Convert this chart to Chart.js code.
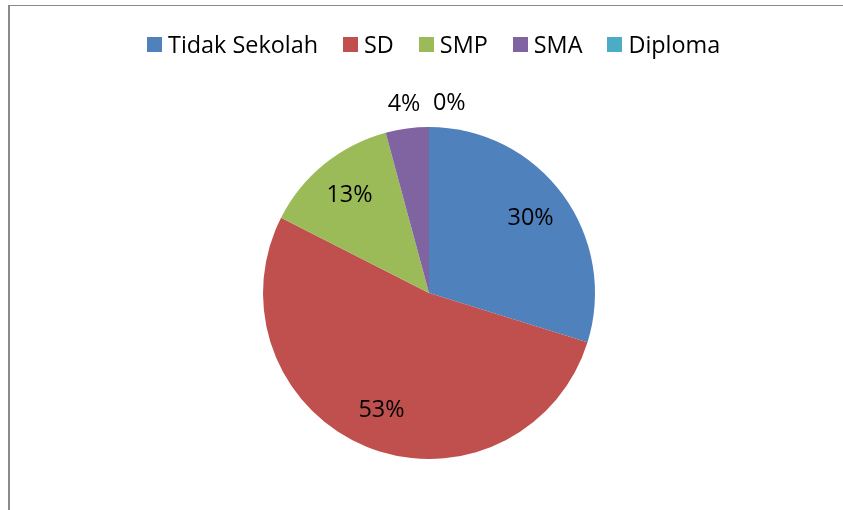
<!DOCTYPE html>
<html>
<head>
<meta charset="utf-8">
<script src="https://cdn.jsdelivr.net/npm/chart.js@4.4.1/dist/chart.umd.min.js"></script>
<style>
  html, body { margin: 0; padding: 0; background: #fff; overflow: hidden; }
  #wrap { position: relative; width: 843px; height: 510px; }
  #frame {
    position: absolute; left: 8px; top: 5px; width: 900px; height: 600px;
    border-top: 1px solid #8a8a8a; border-left: 2px solid #8a8a8a;
  }
  #pie { position: absolute; left: 0; top: 0; }
  #legend {
    position: absolute; left: 147px; top: 28px;
    display: flex; align-items: center;
    font-family: "Open Sans", "Noto Sans", sans-serif; font-size: 23.4px; color: #000;
  }
  #legend .item { display: flex; align-items: center; margin-right: 25px; }
  #legend .box { width: 15px; height: 15px; margin-right: 6px; }
</style>
</head>
<body>
<div id="wrap">
  <div id="frame"></div>
  <canvas id="pie" width="843" height="510"></canvas>
  <div id="legend"></div>
</div>
<script>
// education level shares (percent of respondents)
const categories = ["Tidak Sekolah", "SD", "SMP", "SMA", "Diploma"];
const shares = [29.8, 52.7, 13.3, 4.2, 0];
const colors = ["#4F81BD", "#C0504D", "#9BBB59", "#8064A2", "#4BACC6"];

const labelFont = "23.4px 'Open Sans', 'Noto Sans', sans-serif";

// html legend, built from the chart's own label items
const htmlLegendPlugin = {
  id: "htmlLegend",
  afterUpdate(chart) {
    const box = document.getElementById("legend");
    box.innerHTML = "";
    const items = chart.options.plugins.legend.labels.generateLabels(chart);
    items.forEach((it) => {
      const el = document.createElement("div");
      el.className = "item";
      const sw = document.createElement("span");
      sw.className = "box";
      sw.style.background = it.fillStyle;
      const tx = document.createElement("span");
      tx.textContent = it.text;
      el.appendChild(sw);
      el.appendChild(tx);
      box.appendChild(el);
    });
  },
};

// percent labels: inside for big slices, just outside for small ones
const sliceLabelPlugin = {
  id: "sliceLabels",
  afterDatasetsDraw(chart) {
    const { ctx } = chart;
    const meta = chart.getDatasetMeta(0);
    const data = chart.data.datasets[0].data;
    const total = data.reduce((a, b) => a + b, 0);
    ctx.save();
    ctx.font = labelFont;
    ctx.fillStyle = "#000";
    ctx.textBaseline = "middle";
    meta.data.forEach((arc, i) => {
      const { x, y, startAngle, endAngle, outerRadius } = arc.getProps(
        ["x", "y", "startAngle", "endAngle", "outerRadius"], true
      );
      const mid = (startAngle + endAngle) / 2;
      const pct = Math.round((data[i] / total) * 100);
      const text = pct + "%";
      if (data[i] / total >= 0.08) {
        const d = outerRadius * 0.76;
        ctx.textAlign = "center";
        ctx.fillText(text, x + Math.cos(mid) * d, y + Math.sin(mid) * d);
      } else {
        const d = outerRadius + 24;
        const px = x + Math.cos(mid) * d;
        const py = y + Math.sin(mid) * d;
        if (data[i] === 0) {
          ctx.textAlign = "left";
          ctx.fillText(text, px + 4, py);
        } else {
          ctx.textAlign = "center";
          ctx.fillText(text, px, py);
        }
      }
    });
    ctx.restore();
  },
};

new Chart(document.getElementById("pie"), {
  type: "pie",
  data: {
    labels: categories,
    datasets: [
      {
        data: shares,
        backgroundColor: colors,
        borderWidth: 0,
      },
    ],
  },
  plugins: [htmlLegendPlugin, sliceLabelPlugin],
  options: {
    responsive: false,
    animation: false,
    layout: { padding: { left: 263, right: 248, top: 127, bottom: 51 } },
    plugins: {
      legend: { display: false },
      tooltip: { enabled: false },
    },
  },
});
</script>
</body>
</html>
